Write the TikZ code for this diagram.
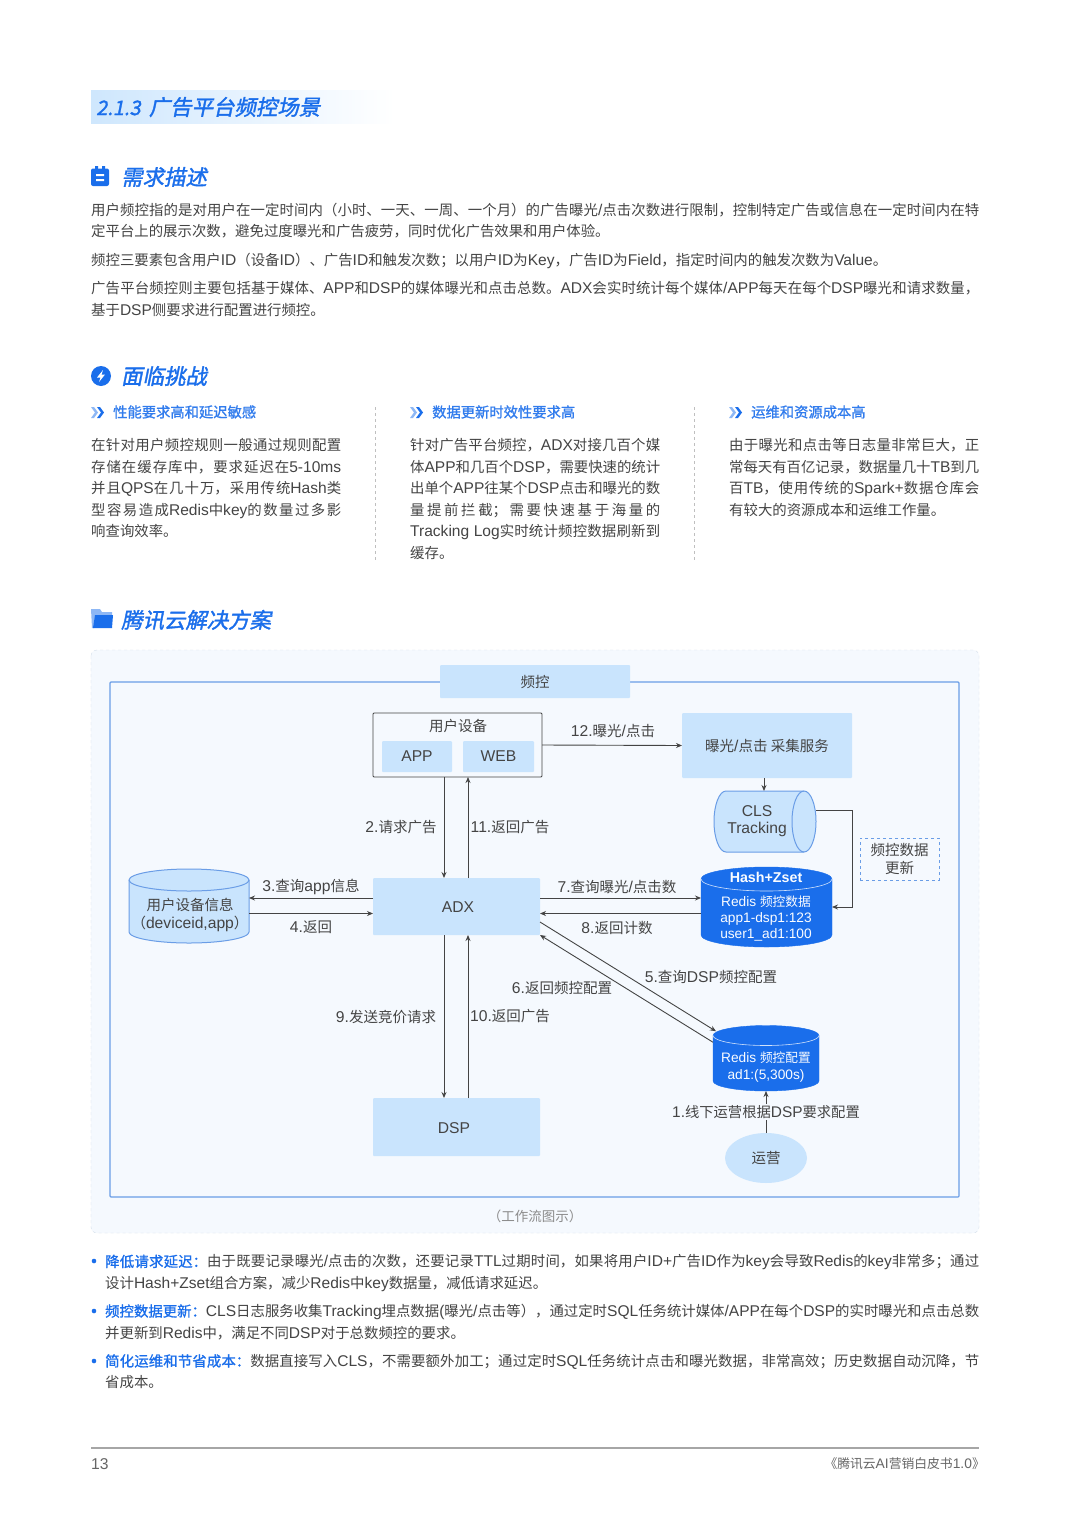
\documentclass[tikz,border=0pt]{standalone}
\usepackage{fontspec}
\usetikzlibrary{arrows.meta,shapes.geometric}
\setmainfont{Liberation Sans}
\newfontfamily\latinfont[Scale=1.08]{Liberation Sans}
\newfontfamily\cjk[BoldFont={Noto Sans CJK SC},BoldFeatures={FakeBold=1.1}]{Noto Sans CJK SC}
\newfontfamily\headfont[FakeSlant=0.2,FakeBold=1.6]{Noto Sans CJK SC}
% Chinese characters switch to the CJK family by themselves
\newXeTeXintercharclass\cjkclass
\newcount\cjkpos
\newcommand{\markcjk}[2]{\cjkpos=#1 \loop\XeTeXcharclass\cjkpos=\cjkclass \advance\cjkpos 1 \ifnum\cjkpos<#2 \repeat}
\markcjk{"3000}{"3100}
\markcjk{"4E00}{"A000}
\markcjk{"FF00}{"FFF0}
\XeTeXinterchartoks 0 \cjkclass={\cjk}
\XeTeXinterchartoks 4095 \cjkclass={\cjk}
\XeTeXinterchartoks \cjkclass 0={\latinfont}
\XeTeXinterchartoks 4095 0={\latinfont}
\XeTeXinterchartokenstate=1
\XeTeXlinebreaklocale "zh"
\XeTeXlinebreakskip=0pt plus 2pt minus 0.3pt
\tolerance=9999
\hbadness=10000
\hfuzz=20pt
\newcommand{\headtype}{\headfont\XeTeXinterchartokenstate=0\relax}
% upright drum: name, x, y, width, height, end radius, style
\newcommand{\drum}[7]{
    \node[inner sep=0pt, outer sep=0pt, minimum width=#4pt, minimum height=#5pt] (#1) at (#2,#3) {};
    \draw[#7] (#2-#4/2,#3-#5/2+#6) arc[start angle=180,end angle=360,x radius=#4/2,y radius=#6] -- (#2+#4/2,#3+#5/2-#6) arc[start angle=0,end angle=180,x radius=#4/2,y radius=#6] -- cycle;
    \draw[#7line] (#2-#4/2,#3-#5/2+#6) arc[start angle=180,end angle=0,x radius=#4/2,y radius=#6];
}
\definecolor{brand}{HTML}{1A6EEB}
\definecolor{lightbox}{HTML}{C9E4FD}
\definecolor{panel}{HTML}{F5F9FE}
\definecolor{rim}{HTML}{6A9DE6}
\definecolor{ink}{HTML}{444444}
\definecolor{panelrim}{HTML}{D3DEEA}

\begin{document}
\begin{tikzpicture}[x=1pt,y=-1pt,>={Stealth[length=6pt,width=5pt]},
    body/.style = {anchor=north west, inner sep=0pt, text=ink, align=justify, font=\fontsize{14.4}{21.5}\selectfont},
    head/.style = {anchor=west, inner sep=0pt, text=brand, font=\fontsize{21.4}{24}\headtype},
    sub/.style = {anchor=west, inner sep=0pt, text=brand!90, font=\fontsize{14.3}{18}\selectfont\bfseries},
    box/.style = {rectangle, fill=lightbox, rounded corners=1pt, inner sep=0pt, outer sep=0pt, text=ink, font=\fontsize{14.5}{18}\selectfont},
    lab/.style = {inner sep=0pt, text=ink, font=\fontsize{14.5}{18}\selectfont},
    wlab/.style = {inner sep=0pt, text=white!90!lightbox, align=center, font=\fontsize{12.7}{15.8}\selectfont},
    lightdrum/.style = {draw=rim, fill=lightbox, line width=1pt},
    lightdrumline/.style = {draw=rim, line width=1pt},
    darkdrum/.style = {draw=brand, fill=brand},
    darkdrumline/.style = {draw=white!80!brand, line width=0.6pt},
    link/.style = {draw=ink, line width=0.9pt}]
    \useasboundingbox (0,0) rectangle (1080,1536);
    \fill[white] (0,0) rectangle (1080,1536);

    % Title
    \shade[left color=lightbox!90, right color=white, draw=none] (91,91) rectangle (395,124);
    \node[head] (title) at (96,107) {{\fontsize{20}{24}\selectfont 2.1.3} \,广告平台频控场景};

    % Section 1
    \fill[brand, rounded corners=2pt] (91,168.5) rectangle (109,186);
    \fill[brand] (95,166) rectangle (98,171) (102,166) rectangle (105,171);
    \fill[white] (96,174) rectangle (104,176) (96,179) rectangle (104,181);
    \node[head] (need) at (121,177) {需求描述};
    \node[body, text width=888pt] (needa) at (91,202.5) {用户频控指的是对用户在一定时间内（小时、一天、一周、一个月）的广告曝光/点击次数进行限制，控制特定广告或信息在一定时间内在特\linebreak 定平台上的展示次数，避免过度曝光和广告疲劳，同时优化广告效果和用户体验。};
    \node[body, text width=888pt] (needb) at (91,252.5) {频控三要素包含用户ID（设备ID）、广告ID和触发次数；以用户ID为Key，广告ID为Field，指定时间内的触发次数为Value。};
    \node[body, text width=888pt] (needc) at (91,281.5) {广告平台频控则主要包括基于媒体、APP和DSP的媒体曝光和点击总数。ADX会实时统计每个媒体/APP每天在每个DSP曝光和请求数量，\linebreak 基于DSP侧要求进行配置进行频控。};

    % Section 2
    \fill[brand] (101,376) circle (10);
    \fill[white] (103,370) -- (97,377.5) -- (100.5,377.5) -- (99,382) -- (105,374.5) -- (101.5,374.5) -- cycle;
    \node[head] (hard) at (121,376) {面临挑战};
    \foreach \x in {91,410,729}{
        \fill[brand!50] (\x,407) -- (\x+3,407) -- (\x+7,412.5) -- (\x+3,418) -- (\x,418) -- (\x+4,412.5) -- cycle;
        \fill[brand] (\x+6,407) -- (\x+9,407) -- (\x+13,412.5) -- (\x+9,418) -- (\x+6,418) -- (\x+10,412.5) -- cycle;
    }
    \node[sub] (harda) at (113,412) {性能要求高和延迟敏感};
    \node[sub] (hardb) at (432,412) {数据更新时效性要求高};
    \node[sub] (hardc) at (751,412) {运维和资源成本高};
    \draw[black!25, dashed, line width=0.6pt] (375,407) -- (375,562);
    \draw[black!25, dashed, line width=0.6pt] (694,407) -- (694,562);
    \node[body, text width=250pt] (texta) at (91,438.5) {在针对用户频控规则一般通过规则配置\linebreak 存储在缓存库中，要求延迟在5-10ms\linebreak 并且QPS在几十万，采用传统Hash类\linebreak 型容易造成Redis中key的数量过多影\linebreak 响查询效率。};
    \node[body, text width=250pt] (textb) at (410,438.5) {针对广告平台频控，ADX对接几百个媒\linebreak 体APP和几百个DSP，需要快速的统计\linebreak 出单个APP往某个DSP点击和曝光的数\linebreak 量提前拦截；需要快速基于海量的\linebreak Tracking Log实时统计频控数据刷新到\linebreak 缓存。};
    \node[body, text width=250pt] (textc) at (729,438.5) {由于曝光和点击等日志量非常巨大，正\linebreak 常每天有百亿记录，数据量几十TB到几\linebreak 百TB，使用传统的Spark+数据仓库会\linebreak 有较大的资源成本和运维工作量。};

    % Section 3
    \fill[brand!50] (91,609) -- (100,609) -- (102,612) -- (112,612) -- (112,615) -- (95,615) -- (94,628) -- (92,628) -- cycle;
    \fill[brand] (95,615) -- (113,615) -- (112,628) -- (93,628) -- cycle;
    \node[head] (plan) at (121,620) {腾讯云解决方案};

    % Panel
    \draw[panelrim, fill=panel, dashed, rounded corners=6pt] (91,650) rectangle (979,1233);
    \draw[rim, line width=1.1pt, rounded corners=1pt] (110,682) rectangle (959,1197);
    \node[box, minimum width=190pt, minimum height=33pt] (freq) at (535,681.5) {频控};
    \node[inner sep=0pt, text=black!45, font=\fontsize{13.5}{16}\selectfont] (caption) at (535,1216) {（工作流图示）};

    % Nodes
    \node[draw=ink, line width=0.9pt, rounded corners=1pt, minimum width=169pt, minimum height=64pt, inner sep=0pt, outer sep=0pt] (dev) at (457.5,745) {};
    \node[lab] (devname) at (458,726) {用户设备};
    \node[box, minimum width=70pt, minimum height=31pt] (app) at (417,756.5) {APP};
    \node[box, minimum width=71pt, minimum height=31pt] (web) at (498.5,756.5) {WEB};
    \node[box, minimum width=170pt, minimum height=65pt] (collect) at (767,745.5) {曝光/点击 采集服务};
    \node[box, minimum width=167pt, minimum height=57pt] (adx) at (456.5,906.5) {};
    \node[lab] (adxname) at (458,907) {ADX};
    \node[box, minimum width=167pt, minimum height=58pt] (dsp) at (456.5,1127) {};
    \node[lab] (dspname) at (454,1128.5) {DSP};
    \node[inner sep=0pt, outer sep=0pt, minimum width=102pt, minimum height=61pt] (cls) at (765,821.5) {};
    \draw[lightdrum] (726,791) -- (804,791) arc[start angle=-90,end angle=90,x radius=12,y radius=30.5] -- (726,852) arc[start angle=90,end angle=270,x radius=12,y radius=30.5] -- cycle;
    \draw[lightdrumline] (804,791) arc[start angle=-90,end angle=-270,x radius=12,y radius=30.5];
    \node[lab, align=center, font=\fontsize{14.5}{17}\selectfont] (clsname) at (757,821.5) {CLS\\Tracking};
    \drum{userdb}{189}{906}{120}{74}{11}{lightdrum}
    \node[lab, align=center] (userdbname) at (190,914.5) {用户设备信息\\（deviceid,app）};
    \drum{hash}{766.5}{907}{131}{80}{12}{darkdrum}
    \node[wlab, font=\fontsize{13.2}{16}\selectfont\bfseries] (hashtop) at (766,877) {Hash+Zset};
    \node[wlab] (hashname) at (766,918.5) {Redis 频控数据\\app1-dsp1:123\\user1\_ad1:100};
    \drum{conf}{766}{1058.25}{106}{65.5}{10}{darkdrum}
    \node[wlab, font=\fontsize{12.7}{17}\selectfont] (confname) at (766,1067.5) {Redis 频控配置\\ad1:(5,300s)};
    \node[ellipse, fill=lightbox, minimum width=82pt, minimum height=50pt, inner sep=0pt, outer sep=0pt, text=ink, font=\fontsize{14.5}{18}\selectfont] (ops) at (766,1158) {运营};
    \node[draw=rim, dashed, line width=0.9pt, minimum width=79pt, minimum height=42pt, inner sep=0pt, align=center, text=ink, font=\fontsize{14.5}{18}\selectfont] (update) at (899.5,859) {频控数据\\更新};

    % Links
    \draw[->, link] ([xshift=-13.5pt]dev.south) -- ([xshift=-12.5pt]adx.north);
    \draw[->, link] ([xshift=11.5pt]adx.north) -- ([xshift=10.5pt]dev.south);
    \draw[->, link] (dev.east) -- (collect.west);
    \draw[->, link] ([xshift=-3pt]collect.south) -- ([xshift=-3pt]collect.south |- cls.north);
    \draw[->, link] ([yshift=11.5pt]cls.east) -- ++(36,0) |- (hash.east);
    \draw[->, link] ([yshift=8.5pt]adx.west) -- ([yshift=8.5pt]adx.west -| userdb.east);
    \draw[->, link] ([yshift=-7pt]adx.west -| userdb.east) -- ([yshift=-7pt]adx.west);
    \draw[->, link] ([yshift=8.5pt]adx.east) -- ([yshift=8.5pt]adx.east -| hash.west);
    \draw[->, link] ([yshift=-7pt]adx.east -| hash.west) -- ([yshift=-7pt]adx.east);
    \draw[->, link] ([yshift=-15.5pt]adx.east) -- ([xshift=-50pt,yshift=27pt]conf.center);
    \draw[->, link] ([yshift=16pt]conf.west) -- (adx.south east);
    \draw[->, link] ([xshift=-12.5pt]adx.south) -- ([xshift=-12.5pt]dsp.north);
    \draw[->, link] ([xshift=11.5pt]dsp.north) -- ([xshift=11.5pt]adx.south);
    \draw[->, link] (ops.north) -- node[fill=panel, inner sep=1pt, text=ink, font=\fontsize{14.3}{18}\selectfont] (opslabel) {1.线下运营根据DSP要求配置} (conf.south);

    % Link labels
    \node[lab] (lb12) at (613,730.5) {12.曝光/点击};
    \node[lab] (lb2) at (401,827.5) {2.请求广告};
    \node[lab] (lb11) at (510,827.5) {11.返回广告};
    \node[lab] (lb3) at (311,886.5) {3.查询app信息};
    \node[lab] (lb4) at (311,927.5) {4.返回};
    \node[lab] (lb7) at (617,886.5) {7.查询曝光/点击数};
    \node[lab] (lb8) at (617,927.5) {8.返回计数};
    \node[lab] (lb5) at (711,976.5) {5.查询DSP频控配置};
    \node[lab] (lb6) at (562,987.5) {6.返回频控配置};
    \node[lab] (lb9) at (386,1016.5) {9.发送竞价请求};
    \node[lab] (lb10) at (510,1016.5) {10.返回广告};

    % Notes
    \foreach \y in {1261,1311,1361}{
        \fill[brand] (94,\y) circle (2.3);
    }
    \node[body, text width=874pt] (notea) at (105,1254.5) {{\color{brand}\bfseries 降低请求延迟：}由于既要记录曝光/点击的次数，还要记录TTL过期时间，如果将用户ID+广告ID作为key会导致Redis的key非常多；通过\linebreak 设计Hash+Zset组合方案，减少Redis中key数据量，减低请求延迟。};
    \node[body, text width=874pt] (noteb) at (105,1304) {{\color{brand}\bfseries 频控数据更新：}CLS日志服务收集Tracking埋点数据(曝光/点击等），通过定时SQL任务统计媒体/APP在每个DSP的实时曝光和点击总数\linebreak 并更新到Redis中，满足不同DSP对于总数频控的要求。};
    \node[body, text width=874pt] (notec) at (105,1354) {{\color{brand}\bfseries 简化运维和节省成本：}数据直接写入CLS，不需要额外加工；通过定时SQL任务统计点击和曝光数据，非常高效；历史数据自动沉降，节\linebreak 省成本。};

    % Footer
    \draw[black!35, line width=1.1pt] (91,1448) -- (979,1448);
    \node[anchor=west, inner sep=0pt, text=black!60, font=\fontsize{14.5}{18}\selectfont] (page) at (91,1464) {13};
    \node[anchor=east, inner sep=0pt, text=black!60, font=\fontsize{12.8}{16}\selectfont] (book) at (985,1464) {《腾讯云AI营销白皮书1.0》};
\end{tikzpicture}
\end{document}
